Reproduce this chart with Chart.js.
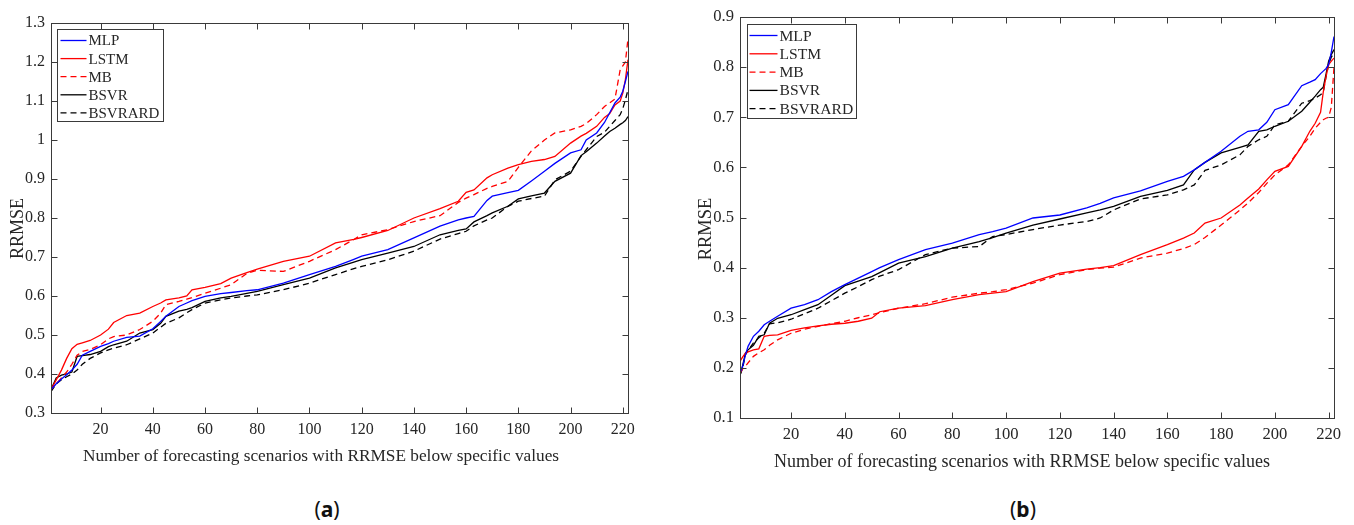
<!DOCTYPE html>
<html><head><meta charset="utf-8">
<script src="https://cdn.jsdelivr.net/npm/chart.js@4.4.0/dist/chart.umd.min.js"></script>
<style>
html,body{margin:0;padding:0;background:#fff;}
body{width:1354px;height:525px;position:relative;overflow:hidden;}
canvas{position:absolute;}
#ca{left:0;top:0;}
#cb{left:680px;top:0;}
.lab{position:absolute;top:495px;width:80px;text-align:center;font-family:'Noto Sans',sans-serif;font-size:21px;line-height:28px;color:#111;}
</style></head><body>
<canvas id="ca" width="660" height="480"></canvas>
<canvas id="cb" width="674" height="490"></canvas>
<div class="lab" style="left:287px">(<b>a</b>)</div>
<div class="lab" style="left:983px">(<b>b</b>)</div>
<script>
// ---------- data: chart (a) ----------
const xA = [1,3,5,7,9,11,13,16,20,23,25,30,35,40,43,45,50,53,55,60,66,70,76,80,90,100,110,117,120,130,140,150,157,160,163,168,170,176,180,185,190,194,200,204,206,210,213,215,217,219,220,221,222];
const mlpA  = [0.36,0.375,0.387,0.398,0.41,0.425,0.448,0.458,0.471,0.478,0.484,0.494,0.497,0.516,0.535,0.548,0.573,0.582,0.588,0.599,0.606,0.609,0.614,0.616,0.633,0.655,0.676,0.694,0.702,0.719,0.749,0.779,0.795,0.80,0.804,0.845,0.856,0.865,0.871,0.895,0.92,0.94,0.967,0.975,1.0,1.018,1.045,1.07,1.095,1.11,1.125,1.15,1.176];
const lstmA = [0.36,0.385,0.41,0.44,0.465,0.476,0.48,0.486,0.50,0.515,0.532,0.55,0.556,0.573,0.582,0.59,0.595,0.60,0.616,0.622,0.632,0.646,0.66,0.669,0.689,0.702,0.736,0.745,0.75,0.768,0.80,0.824,0.843,0.866,0.872,0.903,0.911,0.928,0.937,0.945,0.95,0.958,0.992,1.01,1.017,1.035,1.058,1.068,1.09,1.10,1.12,1.155,1.206];
const mbA   = [0.36,0.375,0.39,0.405,0.425,0.448,0.458,0.463,0.475,0.49,0.496,0.50,0.514,0.535,0.556,0.578,0.586,0.592,0.596,0.607,0.62,0.629,0.658,0.666,0.663,0.689,0.719,0.745,0.757,0.77,0.791,0.806,0.84,0.851,0.86,0.876,0.881,0.894,0.93,0.972,1.0,1.018,1.026,1.035,1.042,1.065,1.086,1.095,1.105,1.18,1.19,1.2,1.26];
const bsvrA = [0.36,0.39,0.397,0.40,0.405,0.445,0.447,0.45,0.458,0.47,0.475,0.484,0.505,0.514,0.53,0.548,0.561,0.566,0.57,0.586,0.595,0.599,0.607,0.612,0.629,0.646,0.672,0.687,0.693,0.71,0.727,0.757,0.768,0.772,0.79,0.806,0.813,0.83,0.849,0.857,0.864,0.894,0.915,0.96,0.97,0.992,1.01,1.022,1.03,1.04,1.044,1.05,1.06];
const ardA  = [0.355,0.375,0.385,0.393,0.40,0.41,0.425,0.44,0.454,0.462,0.466,0.475,0.49,0.505,0.52,0.53,0.544,0.557,0.565,0.582,0.59,0.595,0.60,0.603,0.616,0.633,0.655,0.67,0.676,0.693,0.715,0.746,0.76,0.766,0.78,0.795,0.80,0.83,0.843,0.85,0.856,0.898,0.92,0.958,0.975,1.009,1.02,1.035,1.05,1.065,1.08,1.103,1.129];
const yTicksA  = [0.3,0.4,0.5,0.6,0.7,0.8,0.9,1.0,1.1,1.2,1.3];
const yLabelsA = ['0.3','0.4','0.5','0.6','0.7','0.8','0.9','1','1.1','1.2','1.3'];

// ---------- data: chart (b) ----------
const xB = [1,2,3,4,6,8,10,12,15,20,25,30,35,40,45,50,53,60,70,80,90,95,100,110,120,130,135,140,150,160,166,170,174,180,187,190,194,197,200,205,210,213,215,217,218,219,220,221,222];
const mlpB  = [0.19,0.203,0.225,0.243,0.263,0.273,0.286,0.293,0.303,0.319,0.326,0.336,0.352,0.366,0.379,0.392,0.40,0.416,0.436,0.449,0.466,0.472,0.479,0.499,0.505,0.519,0.528,0.539,0.553,0.572,0.582,0.595,0.61,0.632,0.662,0.672,0.675,0.69,0.715,0.725,0.763,0.77,0.775,0.787,0.792,0.797,0.805,0.83,0.861];
const lstmB = [0.213,0.222,0.229,0.232,0.236,0.238,0.263,0.265,0.266,0.275,0.28,0.284,0.287,0.289,0.293,0.299,0.312,0.319,0.324,0.336,0.346,0.349,0.352,0.372,0.389,0.397,0.40,0.404,0.426,0.446,0.459,0.469,0.489,0.499,0.525,0.539,0.557,0.575,0.592,0.602,0.642,0.672,0.688,0.71,0.75,0.78,0.805,0.812,0.818];
const mbB   = [0.19,0.198,0.203,0.21,0.223,0.23,0.236,0.245,0.256,0.269,0.277,0.283,0.288,0.293,0.30,0.306,0.31,0.319,0.328,0.341,0.349,0.352,0.356,0.369,0.386,0.396,0.399,0.401,0.419,0.429,0.438,0.446,0.46,0.485,0.515,0.529,0.55,0.568,0.585,0.605,0.642,0.662,0.678,0.69,0.695,0.698,0.70,0.72,0.80];
const bsvrB = [0.185,0.205,0.229,0.236,0.245,0.263,0.266,0.289,0.299,0.306,0.316,0.326,0.345,0.364,0.373,0.382,0.39,0.409,0.422,0.439,0.452,0.46,0.469,0.485,0.497,0.509,0.515,0.522,0.542,0.554,0.565,0.595,0.61,0.629,0.64,0.645,0.672,0.675,0.682,0.692,0.712,0.73,0.742,0.755,0.76,0.785,0.812,0.825,0.835];
const ardB  = [0.185,0.2,0.226,0.235,0.25,0.26,0.269,0.288,0.29,0.297,0.308,0.319,0.334,0.349,0.362,0.376,0.383,0.396,0.426,0.439,0.442,0.462,0.466,0.476,0.485,0.492,0.499,0.515,0.537,0.545,0.555,0.565,0.594,0.605,0.625,0.642,0.655,0.662,0.685,0.692,0.728,0.733,0.738,0.745,0.75,0.78,0.805,0.82,0.828];
const yTicksB  = [0.1,0.2,0.3,0.4,0.5,0.6,0.7,0.8,0.9];
const yLabelsB = ['0.1','0.2','0.3','0.4','0.5','0.6','0.7','0.8','0.9'];

// ---------- shared ----------
const xTicks = [20,40,60,80,100,120,140,160,180,200,220];
const seriesNames = ['MLP','LSTM','MB','BSVR','BSVRARD'];
const xTitle = 'Number of forecasting scenarios with RRMSE below specific values';
const yTitle = 'RRMSE';

const STY = [
  {color:'#0000ff', dash:[]},
  {color:'#ff0000', dash:[]},
  {color:'#ff0000', dash:[6,4]},
  {color:'#000000', dash:[]},
  {color:'#000000', dash:[6,4]}
];
const AXIS = '#3a3a3a', TEXT = '#262626', SERIF = '"Liberation Serif", "Times New Roman", serif';
Chart.defaults.font.family = SERIF;
Chart.defaults.color = TEXT;

function boxPlugin(o){
  return {
    id:'box',
    afterDraw(chart){
      const {ctx, chartArea:a, scales:{x, y}} = chart;
      ctx.save();
      // frame
      ctx.strokeStyle = AXIS; ctx.lineWidth = 1; ctx.setLineDash([]);
      const L = Math.round(a.left)+0.5, T = Math.round(a.top)+0.5, R = Math.round(a.right)+0.5, B = Math.round(a.bottom)+0.5;
      ctx.strokeRect(L, T, R-L, B-T);
      // inward ticks on all four sides
      ctx.beginPath();
      x.ticks.forEach(t => { const p = Math.round(x.getPixelForValue(t.value))+0.5;
        ctx.moveTo(p, B); ctx.lineTo(p, B-6); ctx.moveTo(p, T); ctx.lineTo(p, T+6); });
      y.ticks.forEach(t => { const p = Math.round(y.getPixelForValue(t.value))+0.5;
        ctx.moveTo(L, p); ctx.lineTo(L+6, p); ctx.moveTo(R, p); ctx.lineTo(R-6, p); });
      ctx.stroke();
      // legend box
      const lx = Math.round(a.left + o.legDx)+0.5, ly = Math.round(a.top + o.legDy)+0.5;
      ctx.fillStyle = '#fff'; ctx.fillRect(lx, ly, o.legW, o.legH);
      ctx.strokeStyle = AXIS; ctx.lineWidth = 1; ctx.strokeRect(lx, ly, o.legW, o.legH);
      chart.data.datasets.forEach((ds, i) => {
        const yy = ly + o.legY0 + i*o.legStep;
        ctx.strokeStyle = ds.borderColor; ctx.lineWidth = ds.borderWidth; ctx.setLineDash(ds.borderDash || []);
        ctx.beginPath(); ctx.moveTo(lx + o.legL0, yy); ctx.lineTo(lx + o.legL1, yy); ctx.stroke();
        ctx.setLineDash([]);
        ctx.fillStyle = TEXT; ctx.font = o.legFont + 'px ' + SERIF;
        ctx.textAlign = 'left'; ctx.textBaseline = 'middle';
        ctx.fillText(ds.label, lx + o.legT, yy + 1);
      });
      // axis titles
      ctx.fillStyle = TEXT;
      ctx.font = o.xtFont + 'px ' + SERIF; ctx.textAlign = 'center'; ctx.textBaseline = 'alphabetic';
      ctx.fillText(xTitle, o.xtX, o.xtY);
      ctx.save();
      ctx.translate(o.ytX, o.ytY); ctx.rotate(-Math.PI/2);
      ctx.font = o.ytFont + 'px ' + SERIF; ctx.textAlign = 'center'; ctx.textBaseline = 'middle';
      ctx.fillText(yTitle, 0, 0);
      ctx.restore();
      ctx.restore();
    }
  };
}

function makeChart(id, o){
  const datasets = o.series.map((s, i) => ({
    label: seriesNames[i],
    data: o.x.map((xv, j) => ({x: xv, y: s[j]})),
    borderColor: STY[i].color, borderDash: STY[i].dash, borderWidth: 1.3,
    pointRadius: 0, tension: 0, fill: false
  }));
  const tickFont = {family: SERIF, size: o.tickSize};
  return new Chart(document.getElementById(id), {
    type: 'line',
    data: {datasets},
    options: {
      responsive: false, animation: false, devicePixelRatio: 1,
      layout: {padding: {left: 0, top: o.padTop, right: o.padRight, bottom: 0}},
      plugins: {legend: {display: false}, tooltip: {enabled: false}},
      scales: {
        x: {
          type: 'linear', min: 1, max: 222,
          afterFit(s){ s.height = o.xH; },
          afterBuildTicks(s){ s.ticks = xTicks.map(v => ({value: v})); },
          grid: {display: false, drawTicks: false}, border: {display: false},
          ticks: {padding: 7, font: tickFont, color: TEXT, maxRotation: 0, autoSkip: false}
        },
        y: {
          type: 'linear', min: o.yTicks[0], max: o.yTicks[o.yTicks.length-1],
          afterFit(s){ s.width = o.yW; },
          afterBuildTicks(s){ s.ticks = o.yTicks.map(v => ({value: v})); },
          grid: {display: false, drawTicks: false}, border: {display: false},
          ticks: {padding: 6, font: tickFont, color: TEXT, autoSkip: false,
                  callback: (v, i) => o.yLabels[i]}
        }
      }
    },
    plugins: [boxPlugin(o)]
  });
}

makeChart('ca', {
  x: xA, series: [mlpA, lstmA, mbA, bsvrA, ardA], yTicks: yTicksA, yLabels: yLabelsA,
  padTop: 23, padRight: 32, yW: 51, xH: 67, tickSize: 16,
  legDx: 6, legDy: 6, legW: 106, legH: 92, legY0: 11, legStep: 18.1, legL0: 3, legL1: 29, legT: 31, legFont: 15,
  xtFont: 17.3, xtX: 321, xtY: 461, ytFont: 18, ytX: 18.5, ytY: 228.5
});
makeChart('cb', {
  x: xB, series: [mlpB, lstmB, mbB, bsvrB, ardB], yTicks: yTicksB, yLabels: yLabelsB,
  padTop: 17, padRight: 20, yW: 60, xH: 72, tickSize: 16.6,
  legDx: 7, legDy: 7, legW: 109, legH: 94, legY0: 11, legStep: 18.3, legL0: 2, legL1: 30, legT: 32, legFont: 15.6,
  xtFont: 18, xtX: 342, xtY: 467, ytFont: 18.5, ytX: 26.5, ytY: 229
});
</script>
</body></html>
